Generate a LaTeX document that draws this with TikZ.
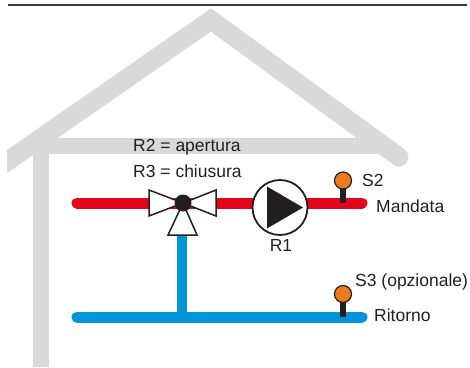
\documentclass[tikz,border=0pt]{standalone}
\usepackage{tikz}
\usepackage{fontspec}
\setmainfont{Liberation Sans}
\definecolor{housegray}{HTML}{D9D9D9}
\definecolor{supplyred}{HTML}{E3061B}
\definecolor{returnblue}{HTML}{0095DA}
\definecolor{sensororange}{HTML}{EC7A1E}
\definecolor{inkdark}{HTML}{231F20}
\begin{document}
\begin{tikzpicture}[x=1pt,y=-1pt,
  housebar/.style={draw=housegray, line width=15.5},
  rooftop/.style={draw=housegray, line width=19, line join=miter, line cap=round},
  pipered/.style={draw=supplyred, line width=11, line cap=round},
  pipeblue/.style={draw=returnblue, line width=11, line cap=round},
  valvewing/.style={draw=inkdark, fill=white, line width=1.5, line join=miter},
  sensorstem/.style={draw=inkdark, line width=6},
  sensorhead/.style={circle, draw=inkdark, fill=sensororange, line width=1.2, minimum size=17, inner sep=0},
  pumpbody/.style={circle, draw=inkdark, fill=white, line width=1.8, minimum size=55, inner sep=0},
  txt/.style={text=inkdark, font=\fontsize{17.5}{21}\selectfont, inner sep=0, anchor=base west}
]
\useasboundingbox (0,0) rectangle (470,367);

% rule along the top edge
\coordinate (ruleL) at (8,5);
\coordinate (ruleR) at (467,5);
\draw[inkdark!90, line width=1.6] (ruleL) -- (ruleR);

% house outline: wall, ceiling, roof
\coordinate (wallBot) at (41,367);
\coordinate (wallTop) at (41,140);
\coordinate (ceilL) at (41,146);
\coordinate (ceilR) at (384,146);
\coordinate (eaveL) at (0,166.4);
\coordinate (apex) at (211,20);
\coordinate (eaveR) at (399,157);
\draw[housebar] (wallBot) -- (wallTop);
\draw[housebar] (ceilL) -- (ceilR);
\begin{scope}
  \clip (7,0) rectangle (470,367);
  \draw[rooftop] (eaveL) -- (apex) -- (eaveR);
\end{scope}

% pipes
\coordinate (supL) at (77,203);
\coordinate (supR) at (362,203);
\coordinate (retL) at (77,317);
\coordinate (retR) at (362,317);
\coordinate (valve) at (183,203);
\coordinate (valveLeg) at (182,225);
\coordinate (retT) at (182,317);
\draw[pipered] (supL) -- (supR);
\draw[pipeblue] (retL) -- (retR);
\draw[returnblue, line width=10.5] (valveLeg) -- (retT);

% three-way valve
\draw[valvewing] (valve) -- (149,190) -- (149,216) -- cycle;
\draw[valvewing] (valve) -- (216,190) -- (216,216) -- cycle;
\draw[valvewing] (valve) -- (168,235) -- (197,235) -- cycle;
\fill[inkdark] (valve) circle (8.5);

% circulation pump
\node[pumpbody] (pump) at (280,207.5) {};
\fill[inkdark] ([shift={(-13,-21)}]pump.center) -- ([shift={(-13,21)}]pump.center) -- ([shift={(23,0)}]pump.center) -- cycle;

% temperature sensors: stem first, head on top
\coordinate (s2c) at (343,180.5);
\coordinate (s3c) at (343,294);
\coordinate (s2base) at (343,203);
\coordinate (s3base) at (343,317);
\draw[sensorstem] (s2c) -- (s2base);
\draw[sensorstem] (s3c) -- (s3base);
\node[sensorhead] (s2) at (s2c) {};
\node[sensorhead] (s3) at (s3c) {};

% labels
\node[txt] (lblR2) at (133,151) {R2 = apertura};
\node[txt] (lblR3) at (133,177) {R3 = chiusura};
\node[txt, anchor=base] (lblR1) at (281,251) {R1};
\node[txt] (lblS2) at (362,186) {S2};
\node[txt] (lblMand) at (376,212) {Mandata};
\node[txt] (lblS3) at (355,286) {S3 (opzionale)};
\node[txt] (lblRit) at (374,321) {Ritorno};
\end{tikzpicture}
\end{document}
